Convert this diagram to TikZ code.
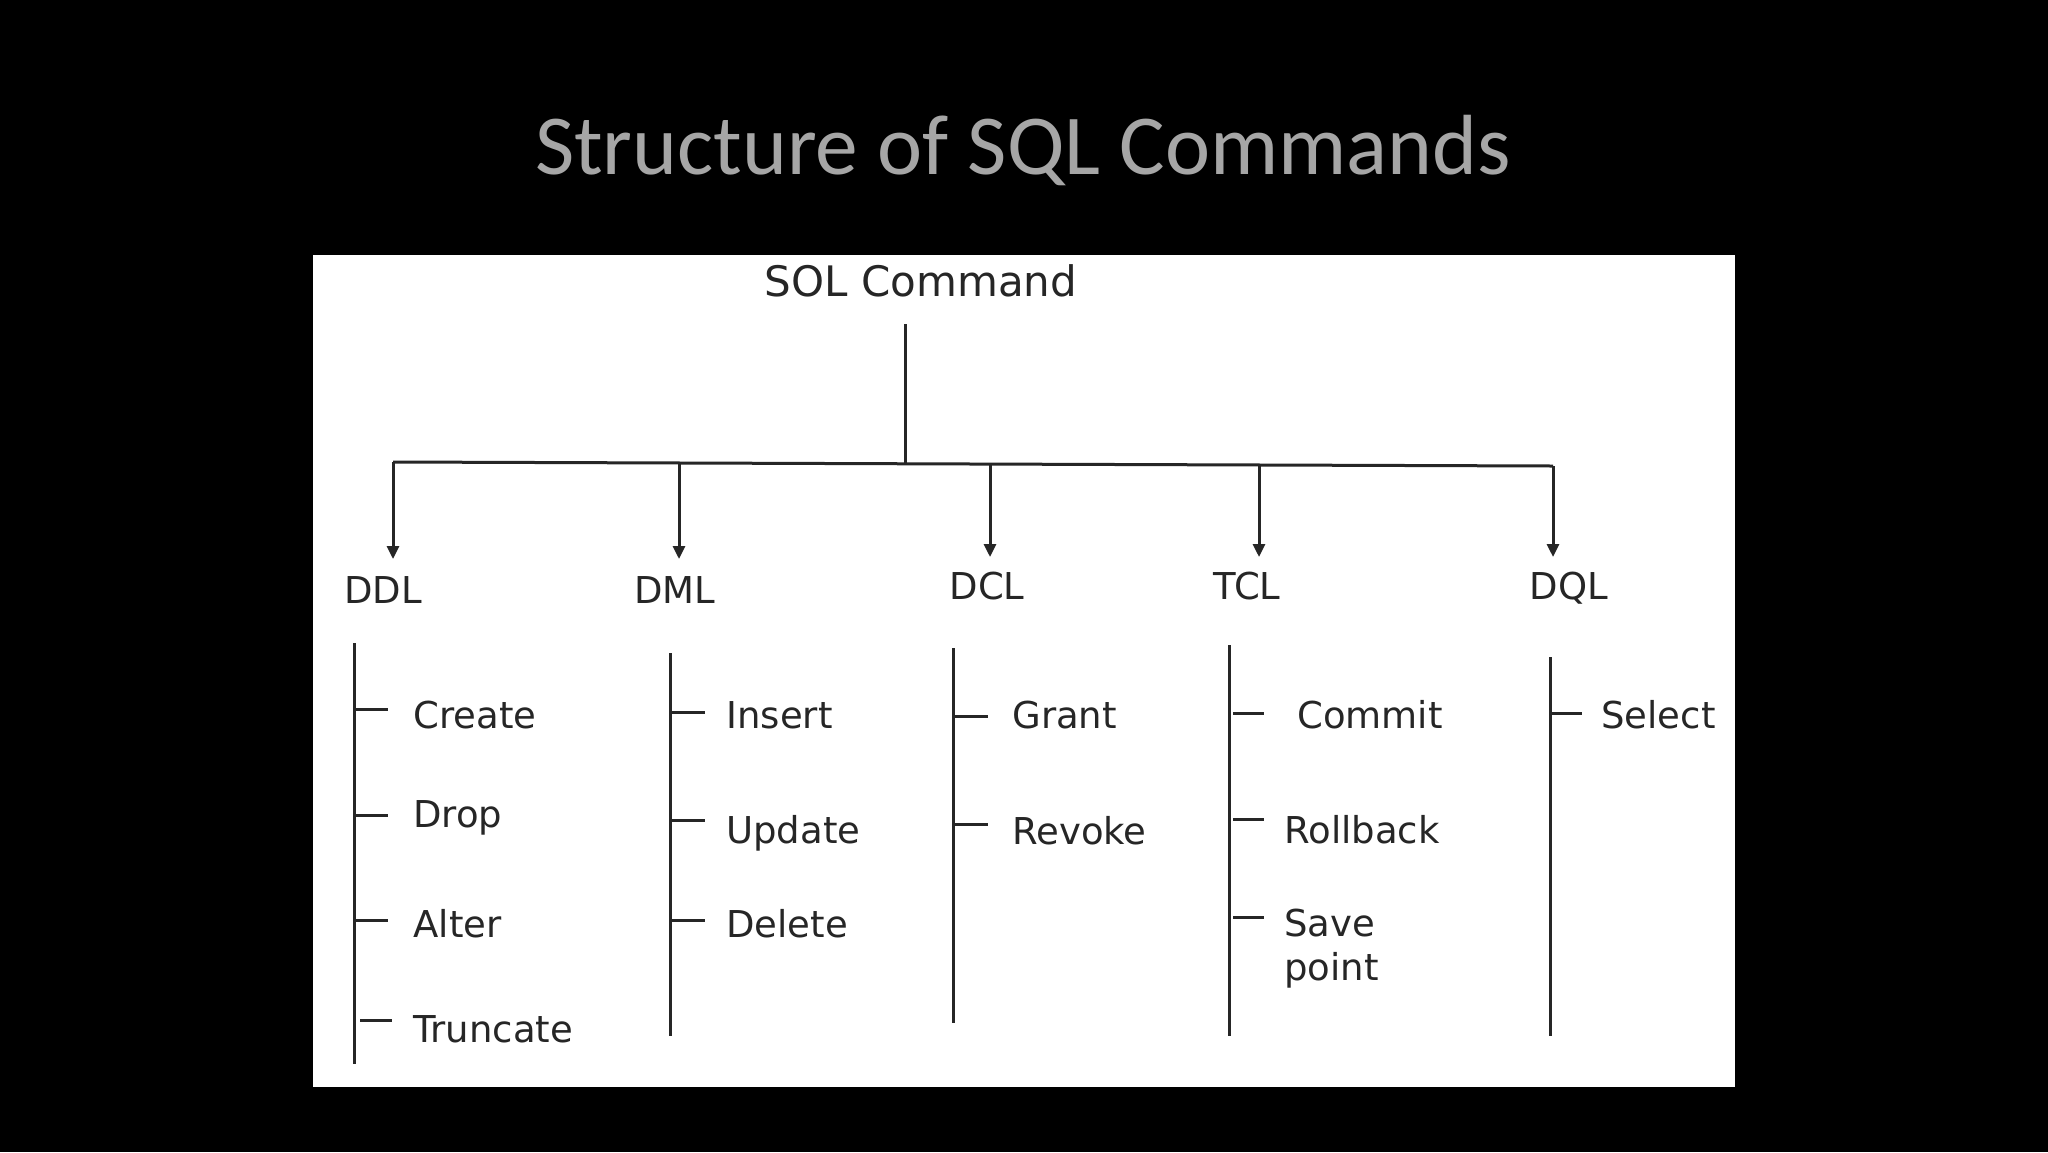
\documentclass[tikz,border=0pt]{standalone}
\usepackage{fontspec}
\setmainfont{DejaVu Sans}
\newfontfamily\titlefont{Carlito}
\usetikzlibrary{arrows.meta}
\definecolor{titlegray}{HTML}{A6A6A6}
\definecolor{inkgray}{HTML}{262626}
\begin{document}
\begin{tikzpicture}[x=0.5pt,y=-0.5pt,
  ln/.style={draw=inkgray, line width=1.5pt},
  arr/.style={ln,-{Triangle[width=6pt,length=6.5pt]}},
  lbl/.style={anchor=base, inner sep=0pt, font=\fontsize{18.5}{21}\selectfont, text=inkgray},
  item/.style={anchor=base west, inner sep=0pt, font=\fontsize{18.5}{21}\selectfont, text=inkgray}]
\useasboundingbox (0,0) rectangle (2048,1152);
\fill[black] (0,0) rectangle (2048,1152);
\fill[white] (313,255) rectangle (1735,1087);
\node[anchor=base, inner sep=0pt, font=\titlefont\fontsize{42.7}{48}\selectfont, text=titlegray] (title) at (1023,174) {Structure of SQL Commands};
\node[anchor=base, inner sep=0pt, font=\fontsize{21}{24}\selectfont, text=inkgray] (root) at (921,296) {SOL Command};
% root stem and bar
\coordinate (rt) at (905,324);
\coordinate (rb) at (905,463);
\coordinate (b1) at (393,462);
\coordinate (b2) at (679,463);
\coordinate (b3) at (990,464);
\coordinate (b4) at (1259,465);
\coordinate (b5) at (1553,466);
\draw[ln] (rt) -- (rb);
\draw[ln] (b1) -- (b5);
% category labels
\node[lbl] (ddl) at (383,603) {DDL};
\node[lbl] (dml) at (675,603) {DML};
\node[lbl] (dcl) at (987,599) {DCL};
\node[lbl] (tcl) at (1247,599) {TCL};
\node[lbl] (dql) at (1569,599) {DQL};
\coordinate (a1) at (393,559);
\coordinate (a2) at (679,559);
\coordinate (a3) at (990,557);
\coordinate (a4) at (1259,557);
\coordinate (a5) at (1553,557);
\draw[arr] (b1) -- (a1);
\draw[arr] (b2) -- (a2);
\draw[arr] (b3) -- (a3);
\draw[arr] (b4) -- (a4);
\draw[arr] (b5) -- (a5);
% spines
\coordinate (s1t) at (354,643);  \coordinate (s1b) at (354,1064);
\coordinate (s2t) at (670,653);  \coordinate (s2b) at (670,1036);
\coordinate (s3t) at (953,648);  \coordinate (s3b) at (953,1023);
\coordinate (s4t) at (1229,645); \coordinate (s4b) at (1229,1036);
\coordinate (s5t) at (1550,657); \coordinate (s5b) at (1550,1036);
\draw[ln] (s1t) -- (s1b);
\draw[ln] (s2t) -- (s2b);
\draw[ln] (s3t) -- (s3b);
\draw[ln] (s4t) -- (s4b);
\draw[ln] (s5t) -- (s5b);
% DDL items
\node[item] (create) at (413,728) {Create};
\node[item] (drop) at (413,827) {Drop};
\node[item] (alter) at (413,937) {Alter};
\node[item] (truncate) at (413,1042) {Truncate};
\draw[ln] (354,709) -- (388,709);
\draw[ln] (354,815) -- (388,815);
\draw[ln] (354,920) -- (388,920);
\draw[ln] (360,1020) -- (392,1020);
% DML items
\node[item] (insert) at (726,728) {Insert};
\node[item] (update) at (726,843) {Update};
\node[item] (delete) at (726,937) {Delete};
\draw[ln] (670,712) -- (705,712);
\draw[ln] (670,820) -- (705,820);
\draw[ln] (670,920) -- (705,920);
% DCL items
\node[item] (grant) at (1012,728) {Grant};
\node[item] (revoke) at (1012,844) {Revoke};
\draw[ln] (953,716) -- (988,716);
\draw[ln] (953,824) -- (988,824);
% TCL items
\node[item] (commit) at (1297,728) {Commit};
\node[item] (rollback) at (1284,843) {Rollback};
\node[item] (save) at (1284,936) {Save};
\node[item] (point) at (1284,980) {point};
\draw[ln] (1233,713) -- (1264,713);
\draw[ln] (1233,819) -- (1264,819);
\draw[ln] (1233,917) -- (1264,917);
% DQL items
\node[item] (select) at (1601,728) {Select};
\draw[ln] (1550,713) -- (1582,713);
\end{tikzpicture}
\end{document}
